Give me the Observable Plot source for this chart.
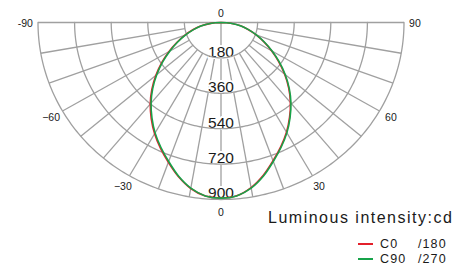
<!DOCTYPE html>
<html><head><meta charset="utf-8">
<script src="https://cdn.jsdelivr.net/npm/d3@7"></script>
<script src="https://cdn.jsdelivr.net/npm/@observablehq/plot@0.6"></script>
<style>
body{margin:0;background:#fff;font-family:"Liberation Sans",Arial,sans-serif;color:#1a1a1a;}
#wrap{position:relative;width:467px;height:266px;overflow:hidden;}
#title{position:absolute;left:268px;top:210px;font-size:16px;line-height:16px;letter-spacing:1.5px;white-space:nowrap;}
.row{position:absolute;left:358px;height:14px;display:flex;align-items:center;font-size:12.5px;letter-spacing:1.1px;white-space:nowrap;}
.row .sw{width:15px;height:1.6px;margin-right:7px;}
.row .nm{width:38px;}
</style>
</head><body><div id="wrap"></div>
<script>
// angles (degrees) at which intensity is read
const angles = [-90,-85,-80,-75,-70,-65,-60,-55,-50,-45,-40,-35,-30,-25,-20,-15,-10,-5,0,5,10,15,20,25,30,35,40,45,50,55,60,65,70,75,80,85,90];
// C0/180 intensity (cd)
const c0 = [0,50,102,143,190,240,296,356,418,481,541,598,653,705,757,811,857,886,892,884,852,804,748,696,644,588,531,471,408,346,287,233,184,138,98,47,0];
// C90/270 intensity (cd)
const c90 = [0,48,100,140,185,235,290,350,412,475,535,592,648,700,752,808,855,885,893,885,855,808,752,700,648,592,535,475,412,350,290,235,185,140,100,48,0];
const rings = [180,360,540,720,900];
const spokeAngles = [-90,-80,-70,-60,-50,-40,-30,-20,-10,0,10,20,30,40,50,60,70,80,90];
const angleTicks = [-90,-60,-30,0,30,60,90];
const angleTickLabels = ["-90","\u221260","\u221230","0","30","60","90"];
const topLabel = "0";
const seriesNames = ["C0","C90"];
const seriesPlanes = ["/180","/270"];
const seriesColors = ["#e3202b","#17a34a"];
const unitTitle = "Luminous intensity:cd";

const rad = a => a * Math.PI / 180;
const px = (r, a) => r * Math.sin(rad(a));
const py = (r, a) => r * Math.cos(rad(a));

const c0Data = angles.map((a, i) => ({a, r: c0[i]}));
const c90Data = angles.map((a, i) => ({a, r: c90[i]}));
const ringPts = rings.flatMap(r => d3.range(-90, 90.01, 1).map(a => ({r, a})));
const spokes = spokeAngles.map(a => ({a, r1: (a === 0 || Math.abs(a) === 90) ? 0 : rings[0], r2: rings[rings.length - 1]}));
const tickData = angleTicks.map((a, i) => ({a, label: angleTickLabels[i]}));
const maxR = rings[rings.length - 1];
const gridColor = "#a0a0a0";

const chart = Plot.plot({
  width: 467, height: 266, margin: 0,
  x: {domain: [-maxR, maxR], range: [37.5, 403.5]},
  y: {domain: [0, maxR], range: [22, 199]},
  axis: null,
  style: {background: "white", fontFamily: "'Liberation Sans', Arial, sans-serif"},
  marks: [
    Plot.link(spokes, {x1: d => px(d.r1, d.a), y1: d => py(d.r1, d.a), x2: d => px(d.r2, d.a), y2: d => py(d.r2, d.a), stroke: gridColor, strokeWidth: 1.3}),
    Plot.text(rings, {x: 0, y: d => d, text: d => String(d), dy: -6, fontSize: 15.5, fill: "#1a1a1a", stroke: "white", strokeWidth: 4}),
    Plot.line(ringPts, {x: d => px(d.r, d.a), y: d => py(d.r, d.a), z: "r", stroke: gridColor, strokeWidth: 1.3}),
    Plot.text(tickData.filter(d => d.a === -90), {x: d => px(925, d.a), y: d => py(925, d.a), text: "label", textAnchor: "end", fontSize: 10.5, fill: "#1a1a1a", dy: 1}),
    Plot.text(tickData.filter(d => d.a === 90), {x: d => px(925, d.a), y: d => py(925, d.a), text: "label", textAnchor: "start", fontSize: 10.5, fill: "#1a1a1a", dy: 1}),
    Plot.text(tickData.filter(d => Math.abs(d.a) !== 90), {x: d => px(965, d.a), y: d => py(965, d.a), text: "label", fontSize: 10.5, fill: "#1a1a1a"}),
    Plot.text([topLabel], {x: 0, y: -45, text: d => d, fontSize: 10.5, fill: "#1a1a1a"}),
    Plot.line(c0Data, {x: d => px(d.r, d.a), y: d => py(d.r, d.a), stroke: seriesColors[0], strokeWidth: 1.6, curve: "catmull-rom"}),
    Plot.line(c90Data, {x: d => px(d.r, d.a), y: d => py(d.r, d.a), stroke: seriesColors[1], strokeWidth: 1.6, curve: "catmull-rom"})
  ]
});
const wrap = document.getElementById("wrap");
wrap.appendChild(chart);
const title = document.createElement("div");
title.id = "title"; title.textContent = unitTitle;
wrap.appendChild(title);
seriesNames.forEach((n, i) => {
  const row = document.createElement("div");
  row.className = "row";
  row.style.top = (237 + i * 15) + "px";
  row.innerHTML = `<span class="sw" style="background:${seriesColors[i]}"></span><span class="nm">${n}</span><span class="pl">${seriesPlanes[i]}</span>`;
  wrap.appendChild(row);
});
</script>
</body></html>
